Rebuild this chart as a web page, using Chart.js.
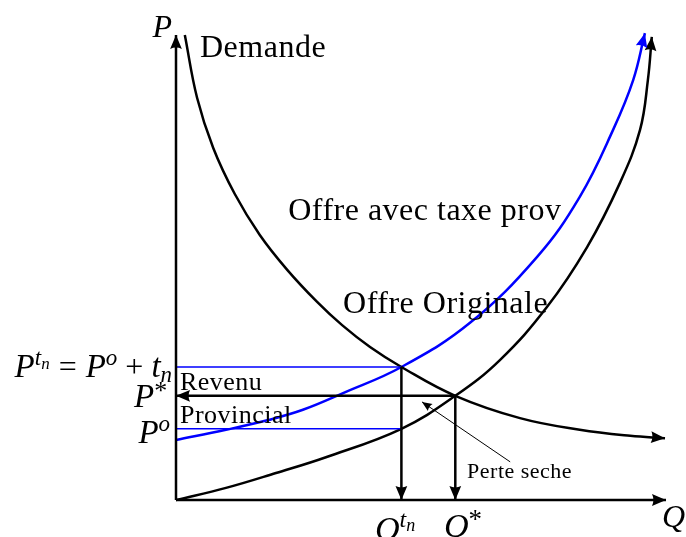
<!DOCTYPE html>
<html>
<head>
<meta charset="utf-8">
<script src="https://cdn.jsdelivr.net/npm/chart.js@4.4.1/dist/chart.umd.min.js"></script>
<style>
html, body { margin: 0; padding: 0; background: #fff; }
#wrap { width: 686px; height: 537px; }
</style>
</head>
<body>
<div id="wrap"><canvas id="chart"></canvas></div>
<script>
// courbe de demande (Q, P)
const demandQ = [1.8, 4.3, 7.6, 12.0, 17.1, 22.7, 28.8, 33.9, 39.6, 46, 57, 70.2, 82.4, 92.7, 99.8];
const demandP = [100, 86.5, 75.7, 65.8, 57.0, 49.5, 42.6, 37.6, 32.9, 28.6, 22.4, 17.6, 15.1, 13.8, 13.3];
// offre originale
const supplyQ = [0, 10.2, 20.4, 30.6, 46, 57, 66.1, 75.7, 83.9, 90.6, 94.7, 96.3, 97.1];
const supplyP = [0, 2.6, 5.8, 9.2, 15.3, 22.4, 30.1, 41.5, 54.4, 68.2, 79.6, 90.3, 99.6];
// offre avec taxe prov
const taxSupplyQ = [0, 10.2, 18.8, 25.9, 34.1, 46, 60.0, 73.7, 82.4, 89.2, 93.3, 95.7];
const taxSupplyP = [12.9, 15.1, 17.2, 19.4, 23.0, 28.6, 38.1, 52.3, 65.2, 79.6, 90.3, 100.4];

// equilibres
const qStar = 57, pStar = 22.4;
const qTax = 46, pTax = 28.6, pProd = 15.3;
const axisMax = 100;

// fleche "Perte seche"
const lossFrom = [68.2, 8.2];
const lossTo = [50.2, 21.1];

// textes
const labelText = ['Demande', 'Offre avec taxe prov', 'Offre Originale', 'Revenu', 'Provincial', 'Perte seche'];

// calage de la figure
const ORIGIN_X = 176, ORIGIN_Y = 500, PX_Q = 4.9, PX_P = 4.65, W = 686, H = 537;

const pts = (xs, ys) => xs.map((x, i) => ({ x: x, y: ys[i] }));

const serif = '"Liberation Serif", "Times New Roman", serif';
const labelPos = [
    { q: 4.9, p: 95.3, size: 32 },
    { q: 22.9, p: 60.2, size: 32 },
    { q: 34.1, p: 40.2, size: 32 },
    { q: 0.8, p: 23.7, size: 26 },
    { q: 0.8, p: 16.6, size: 26 },
    { q: 59.4, p: 4.7, size: 22 }
];

const I = (t, size, up) => ({ t: t, size: size, it: true, up: up || 0, pad: 0 });
const R = (t, size, up, pad) => ({ t: t, size: size, it: false, up: up || 0, pad: pad || 0 });
const mathLabels = [
    { q: -0.8, p: 99.6, align: 'right', segs: [I('P', 32)] },
    { q: 99.2, p: -5.8, align: 'left', segs: [I('Q', 32)] },
    { q: -0.8, p: 26.5, align: 'right', segs: [I('P', 33), I('t', 23, 12), I('n', 17, 8), R('=', 32, 0, 9), I('P', 33), I('o', 23, 12), R('+', 32, 0, 8), I('t', 33), I('n', 23, -5)] },
    { q: -1.8, p: 20.0, align: 'right', segs: [I('P', 33), R('*', 26, 8)] },
    { q: -1.2, p: 12.3, align: 'right', segs: [I('P', 33), I('o', 23, 12)] },
    { q: 40.6, p: -8.6, align: 'left', segs: [I('Q', 34), I('t', 24, 13), I('n', 18, 9)] },
    { q: 54.7, p: -8.0, align: 'left', segs: [I('Q', 34), R('*', 27, 9)] }
];

function drawHead(ctx, fx, fy, x, y, size, color) {
    const a = Math.atan2(y - fy, x - fx);
    const L = size, w = size * 0.42;
    ctx.save();
    ctx.translate(x, y);
    ctx.rotate(a);
    ctx.fillStyle = color;
    ctx.beginPath();
    ctx.moveTo(0, 0);
    ctx.lineTo(-L, -w);
    ctx.quadraticCurveTo(-L * 0.8, 0, -L, w);
    ctx.closePath();
    ctx.fill();
    ctx.restore();
}

function drawRich(ctx, segs, x, y, align) {
    let total = 0;
    segs.forEach(s => {
        ctx.font = (s.it ? 'italic ' : '') + s.size + 'px ' + serif;
        s.w = ctx.measureText(s.t).width;
        total += s.w + 2 * s.pad;
    });
    let cx = align === 'right' ? x - total : (align === 'center' ? x - total / 2 : x);
    segs.forEach(s => {
        ctx.font = (s.it ? 'italic ' : '') + s.size + 'px ' + serif;
        ctx.fillText(s.t, cx + s.pad, y - s.up);
        cx += s.w + 2 * s.pad;
    });
}

const arrowPlugin = {
    id: 'arrows',
    afterDatasetsDraw(chart) {
        const ctx = chart.ctx;
        chart.data.datasets.forEach((ds, i) => {
            if (!ds.arrow) return;
            const els = chart.getDatasetMeta(i).data;
            const last = els[els.length - 1];
            let fx = els[els.length - 2].x, fy = els[els.length - 2].y;
            if (last.cp1x !== undefined && Math.hypot(last.cp1x - last.x, last.cp1y - last.y) > 0.5) {
                fx = last.cp1x; fy = last.cp1y;
            }
            drawHead(ctx, fx, fy, last.x, last.y, ds.arrow, ds.borderColor);
        });
    }
};

const textPlugin = {
    id: 'texts',
    afterDraw(chart) {
        const ctx = chart.ctx;
        const xs = chart.scales.x, ys = chart.scales.y;
        ctx.save();
        ctx.fillStyle = '#000';
        ctx.textBaseline = 'alphabetic';
        ctx.textAlign = 'left';
        labelText.forEach((t, i) => {
            const lp = labelPos[i];
            ctx.font = lp.size + 'px ' + serif;
            ctx.letterSpacing = '0.5px';
            ctx.fillText(t, xs.getPixelForValue(lp.q), ys.getPixelForValue(lp.p));
        });
        ctx.letterSpacing = '0px';
        mathLabels.forEach(m => {
            drawRich(ctx, m.segs, xs.getPixelForValue(m.q), ys.getPixelForValue(m.p), m.align);
        });
        ctx.restore();
    }
};

const line = (data, color, width, extra) => Object.assign({
    data: data,
    borderColor: color,
    borderWidth: width,
    pointRadius: 0,
    showLine: true,
    fill: false,
    clip: false,
    tension: 0
}, extra || {});

const datasets = [
    line([{ x: 0, y: 0 }, { x: 0, y: axisMax }], '#000', 2.5, { arrow: 14 }),
    line([{ x: 0, y: 0 }, { x: axisMax, y: 0 }], '#000', 2.5, { arrow: 14 }),
    line([{ x: qStar, y: pStar }, { x: 0, y: pStar }], '#000', 2.5, { arrow: 14 }),
    line([{ x: qTax, y: pTax }, { x: qTax, y: 0 }], '#000', 2.5, { arrow: 14 }),
    line([{ x: qStar, y: pStar }, { x: qStar, y: 0 }], '#000', 2.5, { arrow: 14 }),
    line([{ x: lossFrom[0], y: lossFrom[1] }, { x: lossTo[0], y: lossTo[1] }], '#000', 1, { arrow: 10 }),
    line([{ x: qTax, y: pTax }, { x: 0, y: pTax }, { x: 0, y: pProd }, { x: qTax, y: pProd }], '#0000ff', 1.5),
    line(pts(demandQ, demandP), '#000', 2.5, { arrow: 14, tension: 0.4 }),
    line(pts(supplyQ, supplyP), '#000', 2.5, { arrow: 14, tension: 0.4 }),
    line(pts(taxSupplyQ, taxSupplyP), '#0000ff', 2.5, { arrow: 14, tension: 0.4 })
];

new Chart(document.getElementById('chart'), {
    type: 'scatter',
    data: { datasets: datasets },
    options: {
        responsive: true,
        maintainAspectRatio: false,
        animation: false,
        events: [],
        layout: { padding: 0 },
        plugins: { legend: { display: false }, tooltip: { enabled: false } },
        scales: {
            x: { type: 'linear', display: false, min: -ORIGIN_X / PX_Q, max: (W - ORIGIN_X) / PX_Q },
            y: { type: 'linear', display: false, min: -(H - ORIGIN_Y) / PX_P, max: ORIGIN_Y / PX_P }
        }
    },
    plugins: [arrowPlugin, textPlugin]
});
</script>
</body>
</html>
